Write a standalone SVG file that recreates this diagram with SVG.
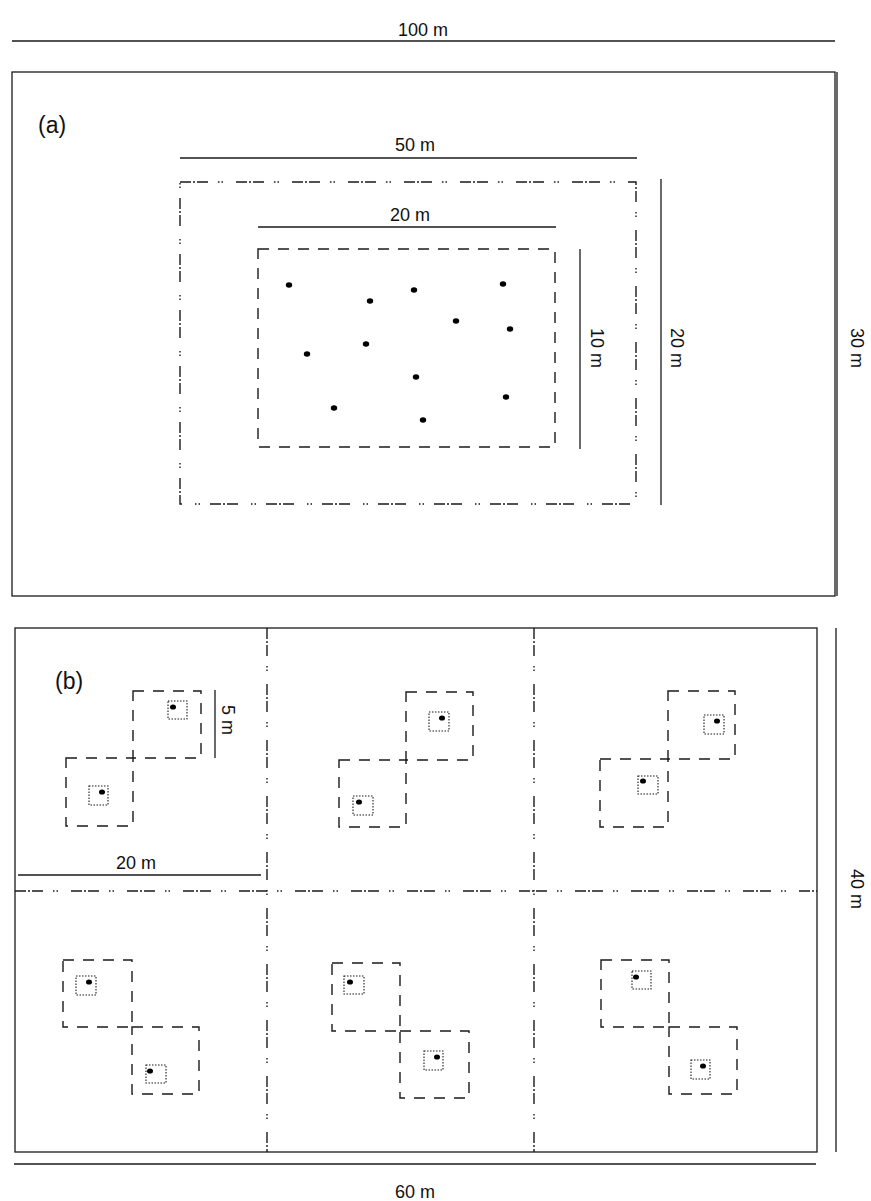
<svg xmlns="http://www.w3.org/2000/svg" width="871" height="1201" viewBox="0 0 871 1201">
<style>
.ln{stroke:#1a1a1a;stroke-width:1.3;fill:none}
.dd{stroke:#1a1a1a;stroke-width:1.4;fill:none;stroke-dasharray:11 2 2 2 11 10 1.5 2 1.5 13}
.ds{stroke:#1a1a1a;stroke-width:1.4;fill:none;stroke-dasharray:11 9}
.dt{stroke:#1a1a1a;stroke-width:1.1;fill:none;stroke-dasharray:1.5 1.5}
.pt{fill:#000}
text{font-family:"Liberation Sans",Arial,sans-serif;font-size:18px;fill:#111}
.lab{font-size:23px}
</style>
<g id="dimensions">
<line class="ln" x1="12" y1="41" x2="835" y2="41"/>
<text x="423" y="36" text-anchor="middle">100 m</text>
<line class="ln" x1="837" y1="72" x2="837" y2="596"/>
<text transform="translate(851,348) rotate(90)" text-anchor="middle">30 m</text>
<line class="ln" x1="180" y1="158" x2="637" y2="158"/>
<text x="415" y="151" text-anchor="middle">50 m</text>
<line class="ln" x1="258" y1="227" x2="556" y2="227"/>
<text x="410" y="221" text-anchor="middle">20 m</text>
<line class="ln" x1="580" y1="249" x2="580" y2="449"/>
<text transform="translate(591,348) rotate(90)" text-anchor="middle">10 m</text>
<line class="ln" x1="661" y1="179" x2="661" y2="505"/>
<text transform="translate(671,348) rotate(90)" text-anchor="middle">20 m</text>
<line class="ln" x1="836" y1="628" x2="836" y2="1152"/>
<text transform="translate(851,889) rotate(90)" text-anchor="middle">40 m</text>
<line class="ln" x1="14" y1="1164" x2="816" y2="1164"/>
<text x="415" y="1198" text-anchor="middle">60 m</text>
<line class="ln" x1="18" y1="875" x2="261" y2="875"/>
<text x="136" y="869" text-anchor="middle">20 m</text>
<line class="ln" x1="215" y1="690" x2="215" y2="758"/>
<text transform="translate(222,720) rotate(90)" text-anchor="middle">5 m</text>
</g>
<g id="panel-a">
<rect class="ln" x="12" y="72" width="823" height="524"/>
<text class="lab" x="38" y="133">(a)</text>
<rect class="dd" x="180" y="182" width="456" height="322"/>
<rect class="ds" x="258" y="249" width="297" height="198"/>
<g class="pt">
<ellipse cx="289" cy="285" rx="3.2" ry="2.7"/>
<ellipse cx="370" cy="301" rx="3.2" ry="2.7"/>
<ellipse cx="414" cy="290" rx="3.2" ry="2.7"/>
<ellipse cx="503" cy="284" rx="3.2" ry="2.7"/>
<ellipse cx="456" cy="321" rx="3.2" ry="2.7"/>
<ellipse cx="510" cy="329" rx="3.2" ry="2.7"/>
<ellipse cx="307" cy="354" rx="3.2" ry="2.7"/>
<ellipse cx="366" cy="344" rx="3.2" ry="2.7"/>
<ellipse cx="416" cy="377" rx="3.2" ry="2.7"/>
<ellipse cx="506" cy="397" rx="3.2" ry="2.7"/>
<ellipse cx="334" cy="408" rx="3.2" ry="2.7"/>
<ellipse cx="423" cy="420" rx="3.2" ry="2.7"/>
</g>
</g>
<g id="panel-b">
<rect class="ln" x="15" y="628" width="802" height="524"/>
<text class="lab" x="55" y="689">(b)</text>
<line class="dd" x1="267" y1="628" x2="267" y2="1152"/>
<line class="dd" x1="534" y1="628" x2="534" y2="1152"/>
<line class="dd" x1="15" y1="891" x2="817" y2="891"/>
<g id="cell1">
<rect class="ds" x="133" y="691" width="68" height="67"/>
<rect class="ds" x="66" y="758" width="67" height="68"/>
<rect class="dt" x="168" y="701" width="19" height="18"/>
<rect class="dt" x="89" y="786" width="19" height="19"/>
<ellipse class="pt" cx="173" cy="707" rx="3" ry="2.6"/>
<ellipse class="pt" cx="102" cy="792" rx="3" ry="2.6"/>
</g>
<g id="cell2">
<rect class="ds" x="406" y="692" width="67" height="68"/>
<rect class="ds" x="339" y="760" width="67" height="67"/>
<rect class="dt" x="429" y="712" width="20" height="19"/>
<rect class="dt" x="353" y="796" width="20" height="19"/>
<ellipse class="pt" cx="442" cy="718" rx="3" ry="2.6"/>
<ellipse class="pt" cx="359" cy="802" rx="3" ry="2.6"/>
</g>
<g id="cell3">
<rect class="ds" x="668" y="691" width="67" height="68"/>
<rect class="ds" x="600" y="759" width="68" height="68"/>
<rect class="dt" x="704" y="715" width="20" height="19"/>
<rect class="dt" x="638" y="776" width="20" height="18"/>
<ellipse class="pt" cx="717" cy="721" rx="3" ry="2.6"/>
<ellipse class="pt" cx="643" cy="781" rx="3" ry="2.6"/>
</g>
<g id="cell4">
<rect class="ds" x="63" y="960" width="69" height="67"/>
<rect class="ds" x="132" y="1027" width="67" height="67"/>
<rect class="dt" x="76" y="976" width="20" height="19"/>
<rect class="dt" x="146" y="1065" width="20" height="18"/>
<ellipse class="pt" cx="89" cy="982" rx="3" ry="2.6"/>
<ellipse class="pt" cx="150" cy="1071" rx="3" ry="2.6"/>
</g>
<g id="cell5">
<rect class="ds" x="332" y="963" width="68" height="68"/>
<rect class="ds" x="400" y="1031" width="69" height="67"/>
<rect class="dt" x="344" y="976" width="20" height="18"/>
<rect class="dt" x="424" y="1051" width="19" height="19"/>
<ellipse class="pt" cx="350" cy="982" rx="3" ry="2.6"/>
<ellipse class="pt" cx="437" cy="1057" rx="3" ry="2.6"/>
</g>
<g id="cell6">
<rect class="ds" x="601" y="960" width="68" height="67"/>
<rect class="ds" x="669" y="1027" width="68" height="67"/>
<rect class="dt" x="632" y="971" width="19" height="18"/>
<rect class="dt" x="691" y="1060" width="19" height="19"/>
<ellipse class="pt" cx="636" cy="977" rx="3" ry="2.6"/>
<ellipse class="pt" cx="703" cy="1066" rx="3" ry="2.6"/>
</g>
</g>
</svg>
